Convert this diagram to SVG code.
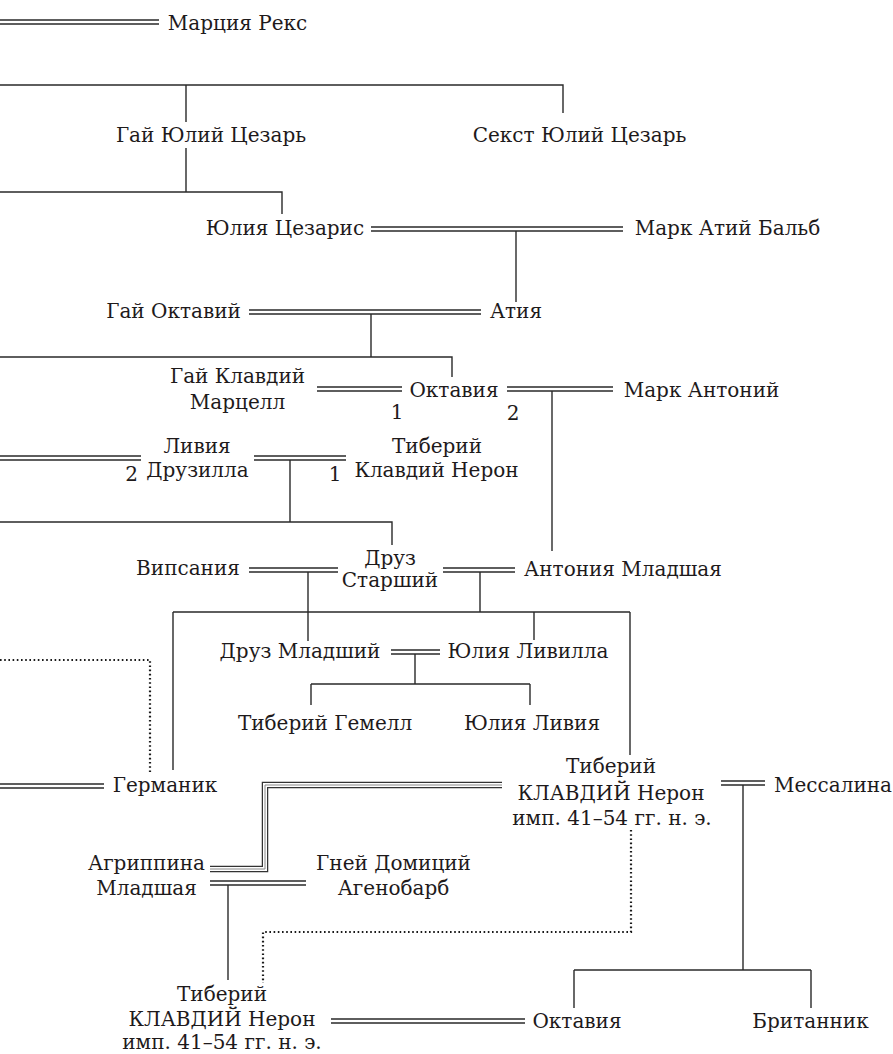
<svg xmlns="http://www.w3.org/2000/svg" width="893" height="1054" viewBox="0 0 893 1054">
<style>
text{font-family:"DejaVu Serif","Liberation Serif",serif;font-size:20px;fill:#1e1a1b;text-anchor:middle}
.l{fill:none;stroke:#2a2a2a;stroke-width:1.4}
.d{fill:none;stroke:#2a2a2a;stroke-width:1.3}
.dot{fill:none;stroke:#1a1a1a;stroke-width:2.2;stroke-dasharray:1.6 2.6}
.t1{fill:none;stroke:#333;stroke-width:6.5}
.t2{fill:none;stroke:#fff;stroke-width:4}
.t3{fill:none;stroke:#888;stroke-width:1}
</style>
<rect width="893" height="1054" fill="#fff"/>
<g id="connectors">
<path class="d" d="M0 20H159M0 24H159"/>
<path class="d" d="M371 227H623M371 231H623"/>
<path class="d" d="M249 310H481M249 314H481"/>
<path class="d" d="M317 387H402M317 391H402"/>
<path class="d" d="M507 387H613M507 391H613"/>
<path class="d" d="M0 456H141M0 460H141"/>
<path class="d" d="M254 456H346M254 460H346"/>
<path class="d" d="M249 568H338M249 572H338"/>
<path class="d" d="M443 568H515M443 572H515"/>
<path class="d" d="M391 650H440M391 654H440"/>
<path class="d" d="M0 784H104M0 788H104"/>
<path class="d" d="M721 781H765M721 785H765"/>
<path class="d" d="M210 881H306M210 885H306"/>
<path class="d" d="M331 1019H525M331 1023H525"/>
<path class="t1" d="M502 785H265V869H210"/>
<path class="t2" d="M502 785H265V869H210"/>
<path class="t3" d="M502 785H265V869H210"/>
<path class="l" d="M0 85H563V113M186 85V122"/>
<path class="l" d="M186 148V192M0 192H282V214"/>
<path class="l" d="M516 231V302"/>
<path class="l" d="M371 314V357M0 357H452V377"/>
<path class="l" d="M552 391V551"/>
<path class="l" d="M290 460V522M0 522H392V545"/>
<path class="l" d="M308 572V641"/>
<path class="l" d="M480 572V612M173 612H630M173 612V770M630 612V755M534 612V640"/>
<path class="l" d="M415 654V684M311 684H530M311 684V705M530 684V705"/>
<path class="l" d="M743 785V970M574 970H811M574 970V1008M811 970V1008"/>
<path class="l" d="M228 885V980"/>
<path class="dot" d="M0 660H150V772"/>
<path class="dot" d="M631 830V932H263V983"/>
</g>
<g id="n-marcia"><text x="237.5" y="30">Марция Рекс</text></g>
<g id="n-gaius-jc"><text x="211" y="142">Гай Юлий Цезарь</text></g>
<g id="n-sextus"><text x="579.5" y="142">Секст Юлий Цезарь</text></g>
<g id="n-julia-caesaris"><text x="285" y="235">Юлия Цезарис</text></g>
<g id="n-balbus"><text x="727.5" y="235">Марк Атий Бальб</text></g>
<g id="n-octavius"><text x="173.5" y="318">Гай Октавий</text></g>
<g id="n-atia"><text x="516" y="318">Атия</text></g>
<g id="n-marcellus"><text x="237.5" y="383">Гай Клавдий</text><text x="237.5" y="409">Марцелл</text></g>
<g id="n-octavia"><text x="454" y="397">Октавия</text><text x="397" y="419">1</text><text x="513" y="420">2</text></g>
<g id="n-antony"><text x="701.5" y="397">Марк Антоний</text></g>
<g id="n-livia"><text x="197" y="453">Ливия</text><text x="197.5" y="477">Друзилла</text><text x="131.5" y="481">2</text></g>
<g id="n-tiberius-nero"><text x="437" y="453">Тиберий</text><text x="436.5" y="477">Клавдий Нерон</text><text x="335" y="481">1</text></g>
<g id="n-vipsania"><text x="188" y="575">Випсания</text></g>
<g id="n-drusus-elder"><text x="390" y="565">Друз</text><text x="390" y="587">Старший</text></g>
<g id="n-antonia"><text x="623" y="576">Антония Младшая</text></g>
<g id="n-drusus-minor"><text x="300" y="658">Друз Младший</text></g>
<g id="n-livilla"><text x="528" y="658">Юлия Ливилла</text></g>
<g id="n-gemellus"><text x="325" y="730">Тиберий Гемелл</text></g>
<g id="n-julia-livia"><text x="532" y="730">Юлия Ливия</text></g>
<g id="n-germanicus"><text x="165" y="792">Германик</text></g>
<g id="n-claudius"><text x="611" y="773">Тиберий</text><text x="611" y="800">КЛАВДИЙ Нерон</text><text x="612" y="825">имп. 41–54 гг. н. э.</text></g>
<g id="n-messalina"><text x="833" y="792">Мессалина</text></g>
<g id="n-agrippina"><text x="146.5" y="870">Агриппина</text><text x="146.5" y="895">Младшая</text></g>
<g id="n-ahenobarbus"><text x="393.5" y="870">Гней Домиций</text><text x="393.5" y="895">Агенобарб</text></g>
<g id="n-nero"><text x="222" y="1001">Тиберий</text><text x="222" y="1026">КЛАВДИЙ Нерон</text><text x="222" y="1049">имп. 41–54 гг. н. э.</text></g>
<g id="n-octavia2"><text x="577" y="1028">Октавия</text></g>
<g id="n-britannicus"><text x="810.5" y="1028">Британник</text></g>
</svg>
